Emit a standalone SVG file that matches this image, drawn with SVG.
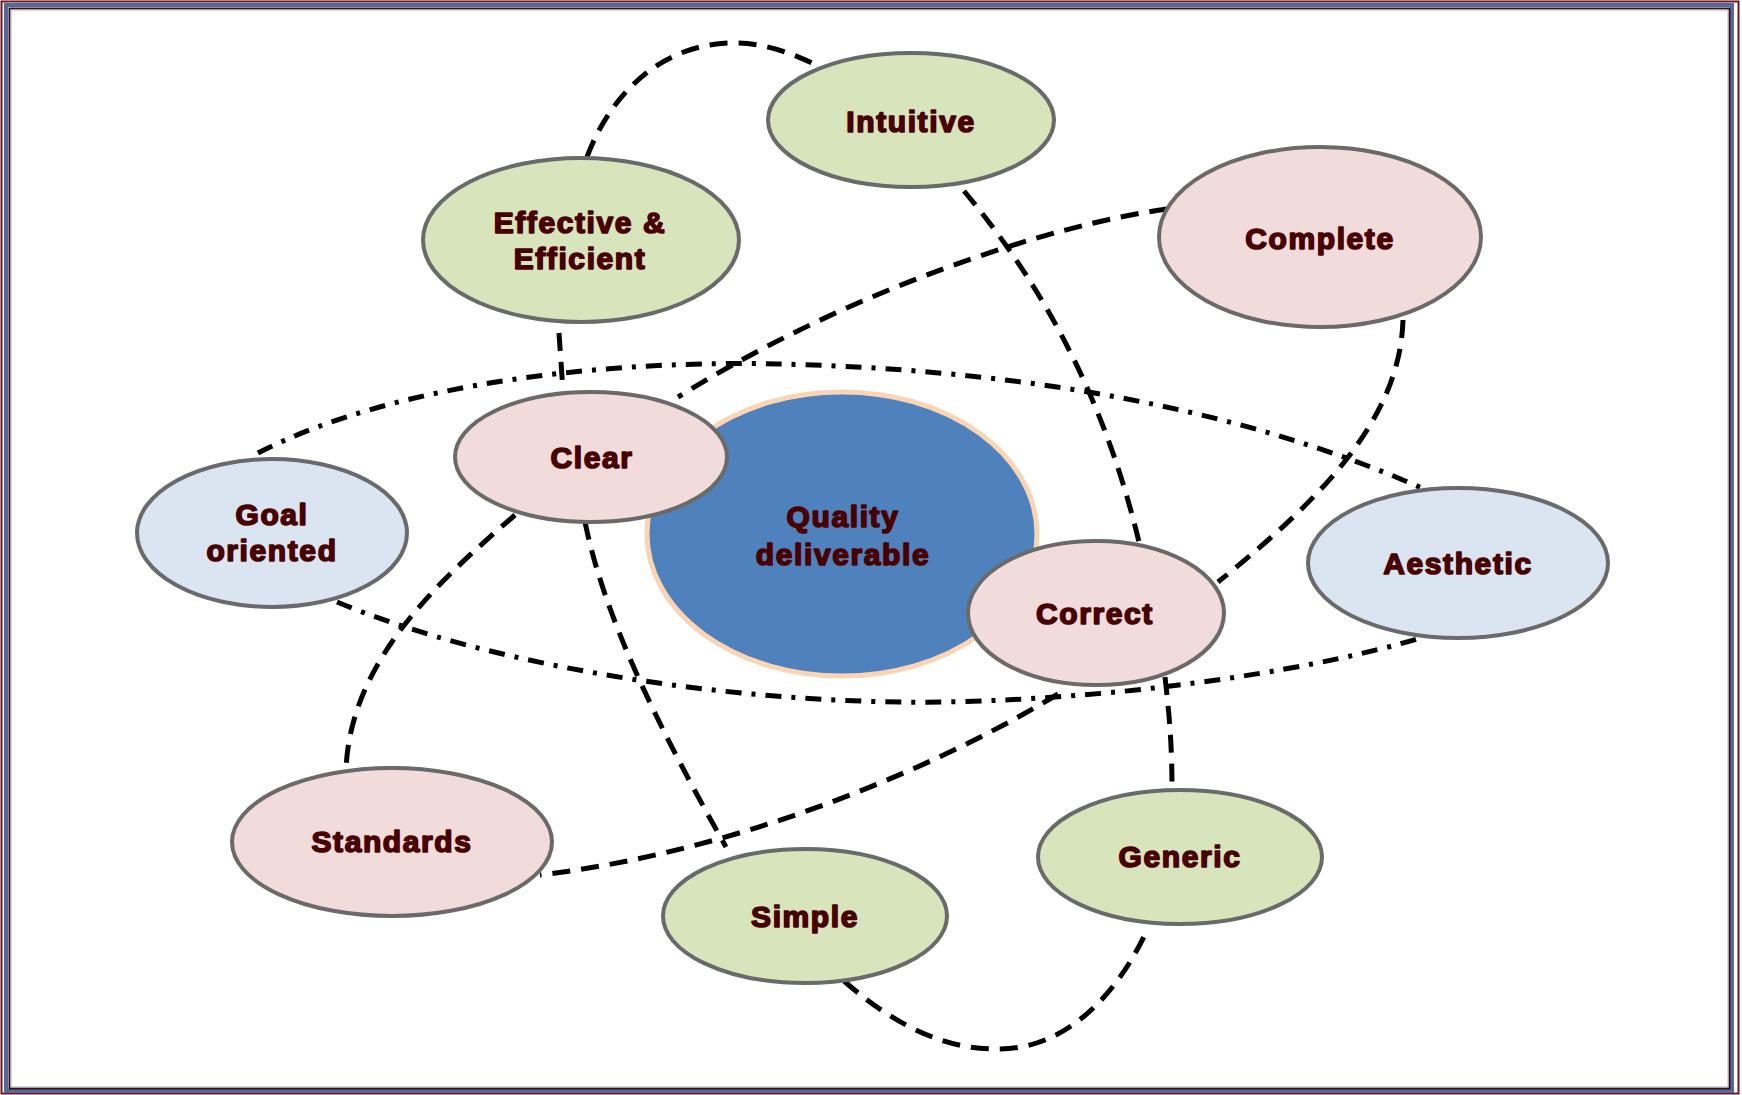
<svg xmlns="http://www.w3.org/2000/svg" width="1742" height="1095" viewBox="0 0 1742 1095">
<style>
.n{stroke:#6a6a6a;stroke-width:4}
.g{fill:#d7e4bc}
.p{fill:#f2dcdb}
.b{fill:#dbe5f1}
.t{font-family:"Liberation Sans",Arial,sans-serif;font-weight:bold;font-size:30px;letter-spacing:1.6px;fill:#480000;stroke:#480000;stroke-width:1.6;stroke-linejoin:round;text-anchor:middle}
.d{fill:none;stroke:#000;stroke-width:5;stroke-dasharray:18 11}
.dd{fill:none;stroke:#000;stroke-width:5;stroke-dasharray:16 10 4 10}
</style>
<rect x="0" y="0" width="1742" height="1095" fill="#fff"/>
<g id="frame" fill="none">
<rect x="1.5" y="1.5" width="1737" height="1092" stroke="#6e1620" stroke-width="2"/>
<rect x="6" y="5" width="1726" height="1086" stroke="#53699a" stroke-width="4"/>
<rect x="9.5" y="8.5" width="1720" height="1080" stroke="#3b0c14" stroke-width="2"/>
<rect x="11" y="10" width="1717" height="1077" stroke="#a9b8d0" stroke-width="1"/>
</g>
<g id="connectors">
<path class="d" d="M587,157 C610,95 660,45 730,43 C765,42 795,55 812,63"/>
<path class="d" d="M964,191 C1030,270 1100,380 1139,542"/>
<path class="d" d="M1167,209 C1050,225 850,290 678,397"/>
<path class="d" d="M1403,320 C1400,420 1320,500 1218,582"/>
<path class="d" d="M559,333 L563,391"/>
<path class="dd" d="M258,453 C400,380 620,360 778,364 C950,368 1200,390 1424,489"/>
<path class="dd" d="M337,602 C500,670 750,705 944,702 C1150,698 1330,665 1417,639"/>
<path class="d" d="M515,515 C440,580 350,660 346,770"/>
<path class="d" d="M585,522 C605,620 660,730 726,847"/>
<path class="d" d="M1058,694 C950,760 750,850 540,875"/>
<path class="d" d="M1165,677 C1170,720 1172,750 1172,789"/>
<path class="d" d="M844,981 C900,1030 950,1050 1000,1049 C1070,1048 1120,990 1148,928"/>
</g>
<g id="quality">
<ellipse cx="842" cy="534" rx="195" ry="142" fill="#4f81bd" stroke="#fbd4b4" stroke-width="5"/>
<text class="t" x="843" y="527">Quality</text>
<text class="t" x="843" y="565">deliverable</text>
</g>
<g id="intuitive">
<ellipse class="n g" cx="911" cy="120" rx="143" ry="67"/>
<text class="t" x="911" y="132">Intuitive</text>
</g>
<g id="effective">
<ellipse class="n g" cx="581" cy="240" rx="158" ry="82"/>
<text class="t" x="580" y="233">Effective &amp;</text>
<text class="t" x="580" y="269">Efficient</text>
</g>
<g id="complete">
<ellipse class="n p" cx="1320" cy="237" rx="161" ry="90"/>
<text class="t" x="1320" y="249">Complete</text>
</g>
<g id="clear">
<ellipse class="n p" cx="591" cy="457" rx="136" ry="65"/>
<text class="t" x="592" y="468">Clear</text>
</g>
<g id="goal">
<ellipse class="n b" cx="272" cy="533" rx="135" ry="74"/>
<text class="t" x="272" y="525">Goal</text>
<text class="t" x="272" y="561">oriented</text>
</g>
<g id="correct">
<ellipse class="n p" cx="1096" cy="613" rx="128" ry="72"/>
<text class="t" x="1095" y="624">Correct</text>
</g>
<g id="aesthetic">
<ellipse class="n b" cx="1458" cy="563" rx="150" ry="75"/>
<text class="t" x="1458" y="574">Aesthetic</text>
</g>
<g id="standards">
<ellipse class="n p" cx="392" cy="842" rx="160" ry="74"/>
<text class="t" x="392" y="852">Standards</text>
</g>
<g id="simple">
<ellipse class="n g" cx="805" cy="916" rx="142" ry="67"/>
<text class="t" x="805" y="927">Simple</text>
</g>
<g id="generic">
<ellipse class="n g" cx="1180" cy="857" rx="142" ry="67"/>
<text class="t" x="1180" y="867">Generic</text>
</g>
</svg>
